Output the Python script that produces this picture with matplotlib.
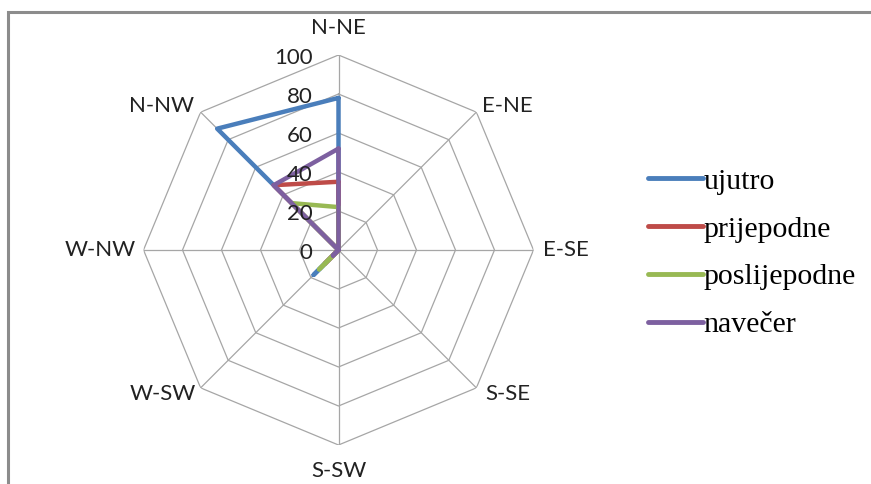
import numpy as np
import matplotlib
matplotlib.use("Agg")
import matplotlib.pyplot as plt
from matplotlib.patches import Rectangle

categories = ["N-NE", "E-NE", "E-SE", "S-SE", "S-SW", "W-SW", "W-NW", "N-NW"]
ujutro = [78, 0, 0, 0, 0, 18, 0, 88]
prijepodne = [35, 0, 0, 0, 0, 10, 0, 47]
poslijepodne = [22, 0, 0, 0, 0, 14, 0, 34]
navecer = [52, 0, 0, 0, 0, 4, 0, 47]
series_names = ["ujutro", "prijepodne", "poslijepodne", "navečer"]
series_values = [ujutro, prijepodne, poslijepodne, navecer]
series_colors = ["#4A7EBB", "#BE4B48", "#98B954", "#7D60A0"]
ticks = [0, 20, 40, 60, 80, 100]

W, H = 871, 484
fig = plt.figure(figsize=(W / 100, H / 100), dpi=100)

# outer chart frame (cropped at right/bottom in the reference)
fig.patches.append(Rectangle((8 / W, -0.05), 1.2, 1.05 - 12 / H, transform=fig.transFigure,
                             fill=False, edgecolor="#8C8C8C", linewidth=2.2, zorder=0))

cx, cy, R = 338.5, 250, 195
ax = fig.add_axes([(cx - R) / W, (H - cy - R) / H, 2 * R / W, 2 * R / H], projection="polar")
ax.set_theta_offset(np.pi / 2)
ax.set_theta_direction(-1)
ax.set_ylim(0, 100)
ax.grid(False)
ax.spines["polar"].set_visible(False)
ax.set_xticks([])
ax.set_yticks([])
ax.patch.set_alpha(0)

n = len(categories)
angles = np.arange(n) * 2 * np.pi / n
closed = np.concatenate([angles, angles[:1]])

grid_c = "#A6A6A6"
for t in ticks[1:]:
    ax.plot(closed, [t] * (n + 1), color=grid_c, lw=0.9, zorder=1)
for a in angles:
    ax.plot([a, a], [0, ticks[-1]], color=grid_c, lw=0.9, zorder=1)

for name, vals, col in zip(series_names, series_values, series_colors):
    v = list(vals) + [vals[0]]
    ax.plot(closed, v, color=col, lw=3.2, solid_capstyle="round",
            solid_joinstyle="round", label=name, zorder=3)

label_font = dict(family=["Lato", "DejaVu Sans"], fontsize=16, color="#222222")
for t in ticks:
    ax.annotate(str(t), xy=(0, t), xytext=(-26, -3), textcoords="offset pixels",
                ha="right", va="center", **label_font)

offsets = {
    "N-NE": ((0, 17), "center", "bottom"),
    "E-NE": ((6, 6), "left", "center"),
    "E-SE": ((9, 0), "left", "center"),
    "S-SE": ((9, -6), "left", "center"),
    "S-SW": ((0, -16), "center", "top"),
    "W-SW": ((-5, -6), "right", "center"),
    "W-NW": ((-8, 0), "right", "center"),
    "N-NW": ((-7, 6), "right", "center"),
}
for a, c in zip(angles, categories):
    off, ha, va = offsets[c]
    ax.annotate(c, xy=(a, ticks[-1]), xytext=off, textcoords="offset pixels",
                ha=ha, va=va, annotation_clip=False, **label_font)

handles, labels = ax.get_legend_handles_labels()
leg = fig.legend(handles, labels, loc="center left", bbox_to_anchor=(636 / W, 1 - 253 / H),
                 frameon=False, prop=dict(family=["Liberation Serif", "DejaVu Serif"], size=21.5),
                 handlelength=1.85, handletextpad=0.0, labelspacing=0.7, borderaxespad=0)
for line in leg.get_lines():
    line.set_linewidth(3.5)
    line.set_solid_capstyle("round")

fig.savefig("out.png", dpi=100, facecolor="white")
